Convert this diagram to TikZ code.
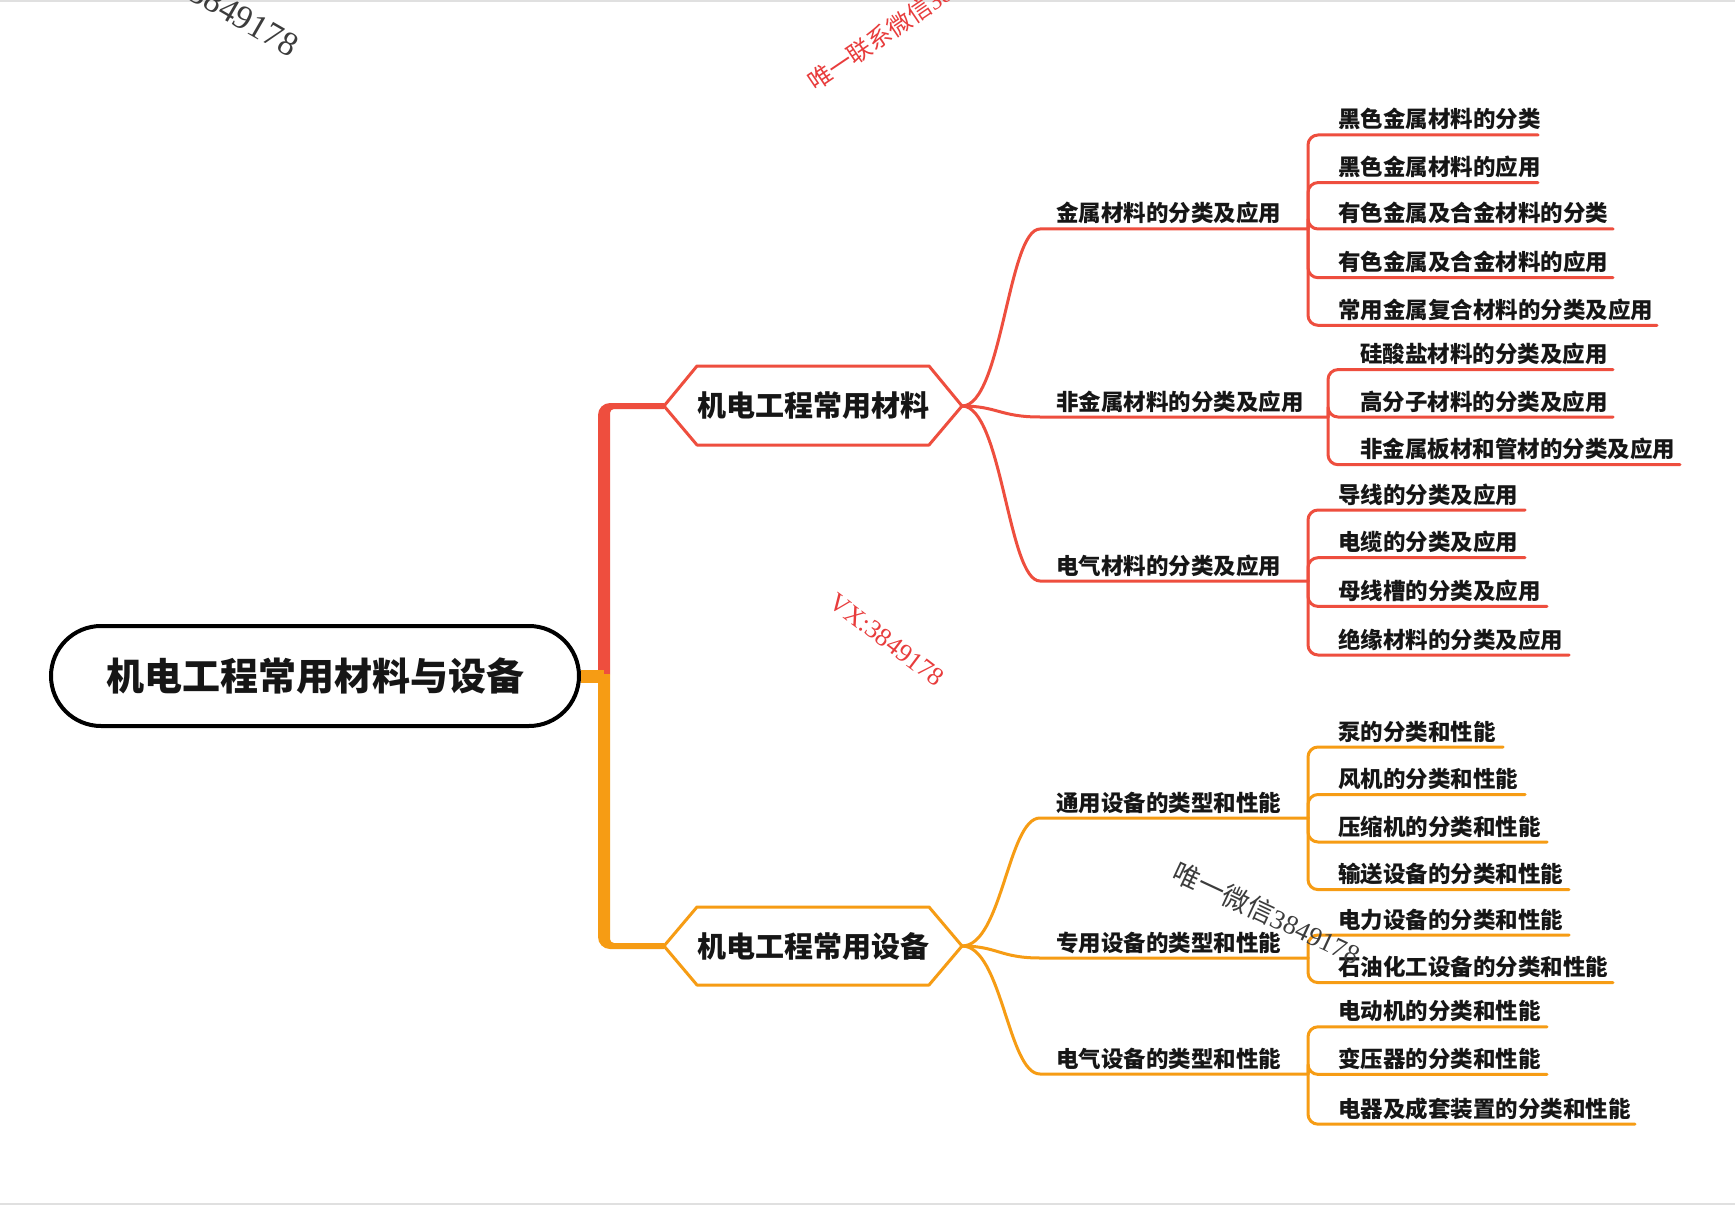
\documentclass[tikz,border=0pt]{standalone}
\usepackage{fontspec}
\setmainfont{Noto Sans CJK SC}
\newfontfamily\wmcjk{Noto Sans CJK SC}
\newfontfamily\wmlat{Liberation Serif}
\definecolor{cred}{RGB}{238,78,62}
\definecolor{corange}{RGB}{246,156,20}
\definecolor{ctext}{RGB}{22,22,22}
\definecolor{cwmred}{RGB}{232,60,60}
\definecolor{cwmgray}{RGB}{60,60,60}
\tikzset{
  lt/.style={font=\fontsize{22.5}{26}\selectfont\bfseries, text=ctext, anchor=base west, inner sep=0pt},
  hextext/.style={font=\fontsize{29}{33}\selectfont\bfseries, text=ctext, inner sep=0pt},
  rl/.style={draw=cred, line width=3pt, line cap=round},
  ol/.style={draw=corange, line width=3pt, line cap=round},
  wm/.style={inner sep=0pt, font=\fontsize{26}{30}\selectfont},
}
\newcommand\mmleaf[7]{%
  \node[lt] (#1) at (#2,{#3-7}) {#5};
  \coordinate (#1e) at (#4,#3);
  \draw[#7, rounded corners=10pt] (#6) |- (#1e);
}
\begin{document}
\begin{tikzpicture}[x=1pt,y=-1pt]
\useasboundingbox (0,0) rectangle (1735,1206);
\fill[white] (0,0) rectangle (1735,1206);
\draw[black!12, line width=2pt] (0,1) -- (1735,1);
\draw[black!12, line width=2pt] (0,1204) -- (1735,1204);

% trunk
\coordinate (h1w) at (664,406);
\coordinate (h1e) at (962,406);
\coordinate (h2w) at (664,946);
\coordinate (h2e) at (962,946);
\coordinate (jn) at (604,676);
\fill[cred] (598,674) -- (598,415) arc[start angle=180, end angle=90, radius=12pt]
  -- (664,403) -- (664,409) -- (614,409) arc[start angle=90, end angle=180, radius=4pt] -- (610,674) -- cycle;
\fill[corange] (598,674) -- (598,937) arc[start angle=180, end angle=270, radius=12pt]
  -- (664,949) -- (664,943) -- (614,943) arc[start angle=270, end angle=180, radius=4pt] -- (610,674) -- cycle;

% root
\node[draw=black, line width=4pt, rounded corners=50pt, minimum width=528pt, minimum height=100pt, fill=white,
      font=\fontsize{38}{44}\selectfont\bfseries, text=ctext] (root) at (315,676) {机电工程常用材料与设备};
\draw[draw=corange, line width=13pt] (root.east) -- (jn);

% hexagons
\node[hextext] (h1) at (813,406) {机电工程常用材料};
\draw[draw=cred, line width=3pt, line join=round] (h1w) -- (697,366) -- (929,366) -- (h1e) -- (929,445) -- (697,445) -- cycle;
\node[hextext] (h2) at (813,946) {机电工程常用设备};
\draw[draw=corange, line width=3pt, line join=round] (h2w) -- (697,907) -- (929,907) -- (h2e) -- (929,985) -- (697,985) -- cycle;

% level 2 red
\node[lt] (A) at (1056,222) {金属材料的分类及应用};
\coordinate (As) at (1040,229); \coordinate (Ae) at (1308,229);
\draw[rl] (h1e) .. controls +(40,0) and +(-32,0) .. (As) -- (Ae);
\node[lt] (B) at (1056,410) {非金属材料的分类及应用};
\coordinate (Bs) at (1040,417); \coordinate (Be) at (1328,417);
\draw[rl] (h1e) .. controls +(35,0) and +(-40,0) .. (Bs) -- (Be);
\node[lt] (C) at (1056,574) {电气材料的分类及应用};
\coordinate (Cs) at (1040,581); \coordinate (Ce) at (1308,581);
\draw[rl] (h1e) .. controls +(40,0) and +(-32,0) .. (Cs) -- (Ce);

% level 2 orange
\node[lt] (D) at (1056,811) {通用设备的类型和性能};
\coordinate (Ds) at (1040,818); \coordinate (De) at (1308,818);
\draw[ol] (h2e) .. controls +(40,0) and +(-32,0) .. (Ds) -- (De);
\node[lt] (E) at (1056,951) {专用设备的类型和性能};
\coordinate (Es) at (1040,958); \coordinate (Ee) at (1308,958);
\draw[ol] (h2e) .. controls +(35,0) and +(-40,0) .. (Es) -- (Ee);
\node[lt] (F) at (1056,1067) {电气设备的类型和性能};
\coordinate (Fs) at (1040,1074); \coordinate (Fe) at (1308,1074);
\draw[ol] (h2e) .. controls +(40,0) and +(-32,0) .. (Fs) -- (Fe);

% leaves
\mmleaf{a1}{1338}{135}{1538}{黑色金属材料的分类}{Ae}{rl}
\mmleaf{a2}{1338}{182.6}{1538}{黑色金属材料的应用}{Ae}{rl}
\mmleaf{a3}{1338}{229}{1613}{有色金属及合金材料的分类}{Ae}{rl}
\mmleaf{a4}{1338}{277.7}{1613}{有色金属及合金材料的应用}{Ae}{rl}
\mmleaf{a5}{1338}{325.3}{1657}{常用金属复合材料的分类及应用}{Ae}{rl}

\mmleaf{b1}{1360}{369.6}{1613}{硅酸盐材料的分类及应用}{Be}{rl}
\mmleaf{b2}{1360}{417}{1613}{高分子材料的分类及应用}{Be}{rl}
\mmleaf{b3}{1360}{464.7}{1680}{非金属板材和管材的分类及应用}{Be}{rl}

\mmleaf{c1}{1338}{510}{1525}{导线的分类及应用}{Ce}{rl}
\mmleaf{c2}{1338}{557.7}{1525}{电缆的分类及应用}{Ce}{rl}
\mmleaf{c3}{1338}{606.4}{1547}{母线槽的分类及应用}{Ce}{rl}
\mmleaf{c4}{1338}{655}{1569}{绝缘材料的分类及应用}{Ce}{rl}

\mmleaf{d1}{1338}{747}{1503}{泵的分类和性能}{De}{ol}
\mmleaf{d2}{1338}{794.5}{1525}{风机的分类和性能}{De}{ol}
\mmleaf{d3}{1338}{842}{1547}{压缩机的分类和性能}{De}{ol}
\mmleaf{d4}{1338}{889.6}{1569}{输送设备的分类和性能}{De}{ol}

\mmleaf{e1}{1338}{935}{1569}{电力设备的分类和性能}{Ee}{ol}
\mmleaf{e2}{1338}{982.6}{1613}{石油化工设备的分类和性能}{Ee}{ol}

\mmleaf{f1}{1338}{1026.8}{1547}{电动机的分类和性能}{Fe}{ol}
\mmleaf{f2}{1338}{1074.4}{1547}{变压器的分类和性能}{Fe}{ol}
\mmleaf{f3}{1338}{1124.2}{1635}{电器及成套装置的分类和性能}{Fe}{ol}

% watermarks
\node[wm, text=cwmgray, anchor=base east, rotate=-30, font=\fontsize{34}{38}\selectfont] (wm1) at (290,58) {\wmlat 3849178};
\node[wm, text=cwmred, anchor=base west, rotate=34, font=\fontsize{24}{28}\selectfont] (wm2) at (815,92) {\wmcjk 唯一联系微信\wmlat 3849178};
\node[wm, text=cwmred, rotate=-37] (wm3) at (887,640) {\wmlat VX:3849178};
\node[wm, text=cwmgray, rotate=-25, font=\fontsize{27}{30}\selectfont] (wm4) at (1267,913) {\wmcjk 唯一微信\wmlat 3849178};
\end{tikzpicture}
\end{document}
